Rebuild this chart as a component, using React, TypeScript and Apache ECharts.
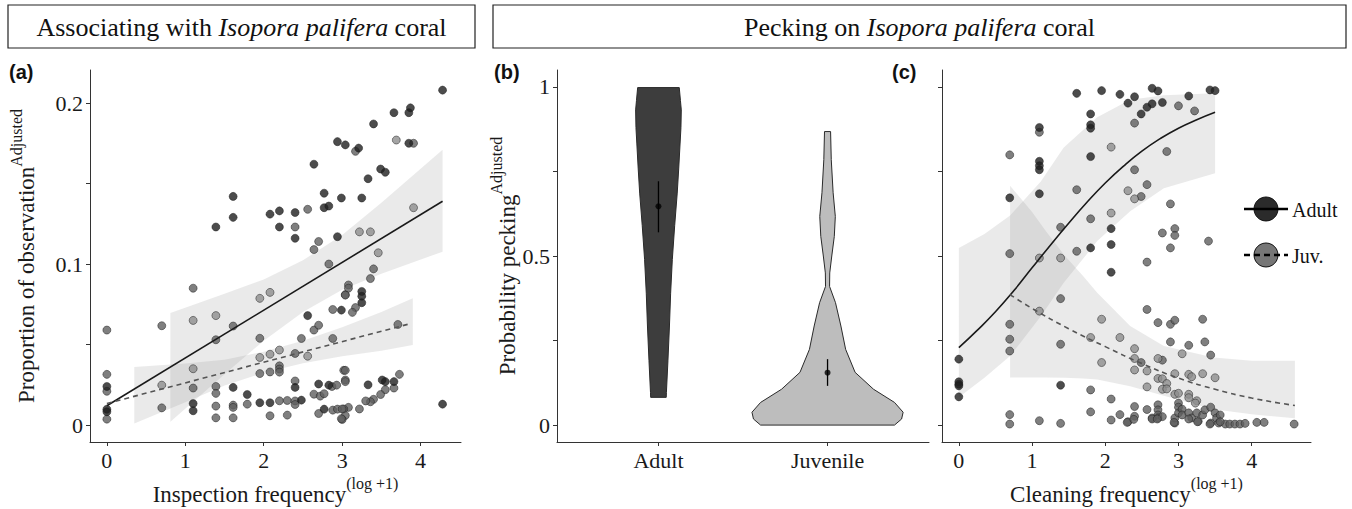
import React, { useEffect, useRef } from "react";
import * as echarts from "echarts";

const SERIF = "'Liberation Serif', 'Times New Roman', serif";
const SANS = "'Liberation Sans', Arial, sans-serif";

// ---------- Panel (a): association vs inspection frequency ----------
const aDark: number[][] = [
  [1.39, 0.123], [1.61, 0.142], [1.61, 0.129], [2.08, 0.131], [2.2, 0.133], [2.2, 0.123], [2.4, 0.132], [2.4, 0.116],
  [2.77, 0.144], [2.77, 0.135], [2.83, 0.136], [2.64, 0.162], [2.94, 0.176], [3.04, 0.174], [2.99, 0.141], [2.94, 0.117],
  [4.28, 0.208], [3.87, 0.197], [3.85, 0.194], [3.66, 0.194], [3.4, 0.187], [3.85, 0.175], [3.21, 0.172], [3.49, 0.159],
  [3.55, 0.157], [3.33, 0.153], [3.25, 0.141], [3.25, 0.083], [3.25, 0.08], [3.25, 0.076], [3.33, 0.025], [3.51, 0.028],
  [3.55, 0.027], [3.66, 0.027], [4.28, 0.013], [0, 0.024], [0, 0.0098], [0, 0.0083], [1.1, 0.0134], [1.1, 0.0089],
  [1.61, 0.0234], [1.79, 0.019], [1.95, 0.0139], [2.08, 0.0139], [2.48, 0.0155], [2.4, 0.0234], [2.56, 0.068],
  [2.7, 0.0255], [2.83, 0.0248], [2.77, 0.0099], [2.99, 0.0714]
];
const aMid: number[][] = [
  [2.4, 0.123], [2.56, 0.134], [2.7, 0.114], [2.64, 0.109], [3.17, 0.17], [3.91, 0.175], [3.04, 0.081], [3.08, 0.087],
  [3.08, 0.085], [3.17, 0.073], [3.13, 0.07], [3.71, 0.0625], [3.02, 0.034], [3.04, 0.028], [3.73, 0.0315], [3.66, 0.023],
  [3.55, 0.022], [3.49, 0.019], [3.4, 0.016], [3.36, 0.0145], [3.3, 0.015], [3.22, 0.01], [3.08, 0.011], [3.02, 0.01],
  [3.04, 0.006], [3.0, 0.0035], [0, 0.059], [0, 0.0315], [0, 0.021], [0, 0.0037], [0.7, 0.0617], [0.7, 0.0107],
  [1.1, 0.085], [1.1, 0.023], [1.39, 0.053], [1.39, 0.024], [1.39, 0.0197], [1.39, 0.0118], [1.39, 0.0045],
  [1.61, 0.0615], [1.61, 0.0124], [1.61, 0.011], [1.61, 0.0045], [1.79, 0.013], [1.95, 0.0539], [1.95, 0.032],
  [2.08, 0.033], [2.2, 0.0368], [2.2, 0.0348], [2.2, 0.0329], [2.2, 0.0151], [2.08, 0.0058], [2.3, 0.0062],
  [2.3, 0.0153], [2.4, 0.015], [2.4, 0.0128], [2.4, 0.0274], [2.48, 0.0538], [2.4, 0.0445], [2.64, 0.059],
  [2.7, 0.062], [2.64, 0.0192], [2.72, 0.018], [2.77, 0.0195], [2.87, 0.024], [2.93, 0.0248], [3.04, 0.027],
  [2.7, 0.0072], [2.88, 0.0093], [2.94, 0.0099], [3.0, 0.01], [2.99, 0.004], [2.88, 0.0718], [2.83, 0.1],
  [2.88, 0.0538], [3.04, 0.034], [3.04, 0.0807], [3.4, 0.097], [3.36, 0.091]
];
const aLight: number[][] = [
  [3.69, 0.177], [3.91, 0.135], [3.22, 0.12], [3.36, 0.12], [3.46, 0.107], [0.7, 0.0248], [1.1, 0.065], [1.1, 0.035],
  [1.39, 0.068], [1.95, 0.0787], [2.08, 0.0824], [1.95, 0.042], [2.08, 0.044], [2.2, 0.0466], [2.56, 0.0428]
];
const aAdultFit: number[][] = [[0, 0.012], [4.28, 0.139]];
const aJuvFit: number[][] = [[0, 0.0134], [3.87, 0.063]];
const aAdultBandX = [0.81, 1.5, 2.0, 2.5, 3.0, 3.5, 4.28];
const aAdultBandLo = [0.002, 0.0316, 0.0524, 0.0703, 0.0841, 0.094, 0.1077];
const aAdultBandHi = [0.0696, 0.0816, 0.0904, 0.1023, 0.1181, 0.138, 0.171];
const aJuvBandX = [0.35, 1.0, 1.5, 2.0, 2.5, 3.0, 3.5, 3.9];
const aJuvBandLo = [0.001, 0.0142, 0.0246, 0.0325, 0.0384, 0.0428, 0.0462, 0.0497];
const aJuvBandHi = [0.036, 0.0382, 0.0406, 0.0455, 0.0524, 0.0608, 0.0702, 0.0787];
const aXTicks = [0, 1, 2, 3, 4];
const aYTicks = [0, 0.05, 0.1, 0.15, 0.2];
const aYLabels = [0, 0.1, 0.2];

// ---------- Panel (b): violins ----------
const bCategories = ["Adult", "Juvenile"];
const bAdultY = [0.998, 0.96, 0.932, 0.88, 0.834, 0.76, 0.686, 0.59, 0.49, 0.39, 0.293, 0.19, 0.096, 0.082];
const bAdultW = [0.123, 0.13, 0.135, 0.133, 0.128, 0.12, 0.111, 0.096, 0.082, 0.072, 0.065, 0.056, 0.047, 0.046];
const bJuvY = [0.868, 0.785, 0.687, 0.617, 0.558, 0.5, 0.45, 0.41, 0.362, 0.293, 0.224, 0.156, 0.106, 0.067, 0.038, 0.018, 0.0];
const bJuvW = [0.018, 0.022, 0.033, 0.046, 0.04, 0.025, 0.013, 0.012, 0.047, 0.079, 0.107, 0.163, 0.272, 0.396, 0.447, 0.438, 0.396];
const bMeans = [0.647, 0.155];
const bLow = [0.57, 0.116];
const bHigh = [0.721, 0.195];
const bYTicks = [0, 0.25, 0.5, 0.75, 1];
const bYLabels = [0, 0.5, 1];

// ---------- Panel (c): pecking vs cleaning frequency ----------
const cDark: number[][] = [
  [1.61, 0.981], [1.95, 0.989], [2.2, 0.978], [2.4, 0.971], [2.31, 0.952], [2.64, 0.996], [2.72, 0.988], [2.57, 0.94],
  [2.64, 0.95], [2.78, 0.954], [3.14, 0.973], [3.43, 0.991], [3.5, 0.989], [1.8, 0.92], [1.8, 0.888], [1.8, 0.878],
  [1.1, 0.88], [1.1, 0.78], [1.1, 0.767], [1.1, 0.755], [1.8, 0.794], [0.695, 0.672], [1.1, 0.684], [2.08, 0.581],
  [2.08, 0.534], [1.8, 0.524], [2.08, 0.452], [1.39, 0.118], [0, 0.195], [0, 0.128], [0, 0.121], [0, 0.116],
  [0, 0.0835], [2.49, 0.92]
];
const cMid: number[][] = [
  [2.4, 0.893], [3.0, 0.944], [3.22, 0.929], [1.1, 0.866], [0.695, 0.799], [2.84, 0.809], [2.4, 0.755], [1.61, 0.696],
  [2.49, 0.676], [2.57, 0.711], [2.89, 0.654], [1.39, 0.585], [1.8, 0.61], [1.61, 0.514], [2.78, 0.568], [2.95, 0.581],
  [2.95, 0.561], [2.89, 0.524], [3.41, 0.544], [0.695, 0.507], [2.57, 0.482], [0.695, 0.298], [0.695, 0.254],
  [0.695, 0.219], [1.39, 0.374], [1.39, 0.239], [2.57, 0.342], [2.49, 0.185], [2.72, 0.303], [2.89, 0.298],
  [2.95, 0.31], [3.33, 0.313], [2.89, 0.246], [3.14, 0.236], [3.36, 0.246], [3.44, 0.207], [2.78, 0.192], [1.8, 0.104],
  [2.08, 0.077], [0.695, 0.031], [0.695, 0.003], [1.1, 0.013], [1.39, 0.005], [1.8, 0.039], [2.08, 0.015], [2.2, 0.031],
  [2.31, 0.01], [2.4, 0.055], [2.4, 0.026], [2.57, 0.046], [2.64, 0.021], [2.72, 0.06], [2.72, 0.045], [2.72, 0.03],
  [2.72, 0.021], [2.78, 0.025], [2.95, 0.006], [2.95, 0.021], [3.0, 0.065], [3.0, 0.053], [3.0, 0.036], [3.05, 0.047],
  [3.05, 0.03], [3.14, 0.036], [3.18, 0.021], [3.25, 0.036], [3.27, 0.011], [3.33, 0.03], [3.36, 0.045], [3.44, 0.053],
  [3.44, 0.006], [3.5, 0.036], [3.52, 0.021], [3.57, 0.03], [3.55, 0.006], [3.64, 0.003], [3.7, 0.003], [3.77, 0.003],
  [3.84, 0.003], [3.91, 0.005], [2.3, 0.008], [2.39, 0.017], [2.64, 0.018], [2.71, 0.018], [2.94, 0.008], [3.14, 0.018],
  [3.26, 0.01], [3.43, 0.003], [3.57, 0.01], [4.07, 0.008], [4.17, 0.008], [4.58, 0.003]
];
const cLight: number[][] = [
  [2.08, 0.822], [2.31, 0.693], [2.4, 0.669], [2.08, 0.627], [1.1, 0.494], [1.39, 0.494], [1.1, 0.337], [1.95, 0.313],
  [1.8, 0.259], [2.2, 0.259], [1.95, 0.185], [2.4, 0.226], [2.4, 0.197], [2.4, 0.163], [2.57, 0.16], [2.72, 0.197],
  [2.72, 0.138], [2.78, 0.137], [2.84, 0.123], [2.78, 0.106], [2.84, 0.107], [2.57, 0.113], [2.95, 0.152], [3.14, 0.15],
  [3.18, 0.143], [3.33, 0.152], [3.5, 0.14], [2.95, 0.091], [3.0, 0.094], [3.14, 0.091], [3.14, 0.081], [3.25, 0.072],
  [3.23, 0.065], [3.05, 0.211]
];
const cAdultFit: number[][] = [
  [0, 0.229], [0.25, 0.28], [0.5, 0.335], [0.75, 0.397], [1.0, 0.465], [1.25, 0.532], [1.5, 0.597], [1.75, 0.659],
  [2.0, 0.716], [2.25, 0.766], [2.5, 0.81], [2.75, 0.847], [3.0, 0.878], [3.25, 0.903], [3.5, 0.925]
];
const cJuvFit: number[][] = [
  [0.7, 0.386], [1.0, 0.345], [1.5, 0.285], [2.0, 0.232], [2.5, 0.182], [3.0, 0.139], [3.5, 0.106], [4.0, 0.08],
  [4.59, 0.058]
];
const cAdultBandX = [0, 0.35, 0.7, 1.12, 1.43, 1.89, 2.34, 2.8, 3.5];
const cAdultBandLo = [0.082, 0.14, 0.204, 0.322, 0.42, 0.544, 0.632, 0.7, 0.745];
const cAdultBandHi = [0.524, 0.565, 0.62, 0.72, 0.82, 0.91, 0.962, 0.975, 0.981];
const cJuvBandX = [0.7, 1.0, 1.2, 1.45, 1.7, 1.89, 2.34, 2.8, 3.48, 4.0, 4.59];
const cJuvBandLo = [0.141, 0.141, 0.141, 0.14, 0.138, 0.135, 0.115, 0.087, 0.047, 0.032, 0.02];
const cJuvBandHi = [0.708, 0.63, 0.57, 0.5, 0.44, 0.391, 0.293, 0.234, 0.2, 0.19, 0.19];
const cXTicks = [0, 1, 2, 3, 4];
const cYTicks = [0, 0.25, 0.5, 0.75, 1];

const legendLabels = ["Adult", "Juv."];

// ---------- styling ----------
const DARK = "#1f1f1f";
const MID = "#5f5f5f";
const LIGHT = "#8d8d8d";
const BAND = "rgba(150,150,150,0.2)";
const AXIS = "#333";

function bandItem(xs: number[], lo: number[], hi: number[]) {
  return (_p: any, api: any) => {
    const pts: number[][] = [];
    for (let i = 0; i < xs.length; i++) pts.push(api.coord([xs[i], hi[i]]));
    for (let i = xs.length - 1; i >= 0; i--) pts.push(api.coord([xs[i], lo[i]]));
    return { type: "polygon", shape: { points: pts }, style: { fill: BAND } };
  };
}

function scatter(data: number[][], color: string, idx: number) {
  return {
    type: "scatter",
    xAxisIndex: idx,
    yAxisIndex: idx,
    data,
    symbolSize: 8,
    itemStyle: { color, borderColor: "#1a1a1a", borderWidth: 0.6 },
    silent: true,
  };
}

const tickLabel = { fontFamily: SERIF, fontSize: 22, color: "#1a1a1a" };
const nameStyle = {
  fontFamily: SERIF,
  fontSize: 23,
  color: "#1a1a1a",
  rich: {
    m: { fontFamily: SERIF, fontSize: 23, color: "#1a1a1a", lineHeight: 30, verticalAlign: "bottom" },
    s: { fontFamily: SERIF, fontSize: 16, color: "#1a1a1a", lineHeight: 16, verticalAlign: "top" },
  },
};

function valueAxis(grid: number, min: number, max: number, ticks: number[], labels: number[] | null, extra: any = {}) {
  return {
    type: "value",
    gridIndex: grid,
    min,
    max,
    splitLine: { show: false },
    axisLine: { show: true, onZero: false, lineStyle: { color: AXIS, width: 1 } },
    axisTick: { show: true, length: 4, lineStyle: { color: AXIS }, customValues: ticks },
    axisLabel: labels
      ? { show: true, margin: 7, ...tickLabel, customValues: labels }
      : { show: false },
    ...extra,
  };
}

export default function App() {
  const ref = useRef<HTMLDivElement>(null);
  useEffect(() => {
    if (!ref.current) return;
    const chart = echarts.init(ref.current, undefined, { renderer: "svg" });

    const violinProfiles = [
      { ys: bAdultY, ws: bAdultW, fill: "#3d3d3d" },
      { ys: bJuvY, ws: bJuvW, fill: "#bdbdbd" },
    ];

    const option: any = {
      animation: false,
      backgroundColor: "#ffffff",
      grid: [
        { left: 90, top: 70, width: 371, height: 372, outerBoundsMode: "none", containLabel: false },
        { left: 557, top: 70, width: 372, height: 372, outerBoundsMode: "none", containLabel: false },
        { left: 942, top: 70, width: 369, height: 372, outerBoundsMode: "none", containLabel: false },
      ],
      xAxis: [
        valueAxis(0, -0.215, 4.515, aXTicks, aXTicks, {
          name: "{m|Inspection frequency}{s|(log +1)}",
          nameLocation: "middle",
          nameGap: 32,
          nameTextStyle: nameStyle,
        }),
        valueAxis(1, 0.4, 2.6, [1, 2], [1, 2], {
          axisLabel: {
            show: true,
            margin: 7,
            ...tickLabel,
            customValues: [1, 2],
            formatter: (v: number) => bCategories[Math.round(v) - 1],
          },
        }),
        valueAxis(2, -0.23, 4.81, cXTicks, cXTicks, {
          name: "{m|Cleaning frequency}{s|(log +1)}",
          nameLocation: "middle",
          nameGap: 32,
          nameTextStyle: nameStyle,
        }),
      ],
      yAxis: [
        valueAxis(0, -0.0105, 0.2205, aYTicks, aYLabels, {
          name: "{m|Proportion of observation}{s|Adjusted}",
          nameLocation: "middle",
          nameGap: 52,
          nameRotate: 90,
          nameTextStyle: nameStyle,
        }),
        valueAxis(1, -0.05, 1.05, bYTicks, bYLabels, {
          name: "{m|Probability pecking}{s|Adjusted}",
          nameLocation: "middle",
          nameGap: 36,
          nameRotate: 90,
          nameTextStyle: nameStyle,
        }),
        valueAxis(2, -0.05, 1.05, cYTicks, null),
      ],
      series: [
        // panel a
        { type: "custom", xAxisIndex: 0, yAxisIndex: 0, data: [[aAdultBandX[0], aAdultBandLo[0]]], renderItem: bandItem(aAdultBandX, aAdultBandLo, aAdultBandHi), silent: true },
        { type: "custom", xAxisIndex: 0, yAxisIndex: 0, data: [[aJuvBandX[0], aJuvBandLo[0]]], renderItem: bandItem(aJuvBandX, aJuvBandLo, aJuvBandHi), silent: true },
        scatter(aMid, MID, 0),
        scatter(aLight, LIGHT, 0),
        scatter(aDark, DARK, 0),
        { type: "line", xAxisIndex: 0, yAxisIndex: 0, data: aAdultFit, showSymbol: false, lineStyle: { color: "#1a1a1a", width: 1.6 }, silent: true },
        { type: "line", xAxisIndex: 0, yAxisIndex: 0, data: aJuvFit, showSymbol: false, lineStyle: { color: "#555", width: 1.6, type: [5, 4] }, silent: true },
        // panel b violins
        {
          type: "custom",
          xAxisIndex: 1,
          yAxisIndex: 1,
          data: [[1, 0.5], [2, 0.5]],
          silent: true,
          renderItem: (p: any, api: any) => {
            const prof = violinProfiles[p.dataIndex];
            const cx = p.dataIndex + 1;
            const pts: number[][] = [];
            for (let i = 0; i < prof.ys.length; i++) pts.push(api.coord([cx + prof.ws[i], prof.ys[i]]));
            for (let i = prof.ys.length - 1; i >= 0; i--) pts.push(api.coord([cx - prof.ws[i], prof.ys[i]]));
            return { type: "polygon", shape: { points: pts }, style: { fill: prof.fill, stroke: "#2a2a2a", lineWidth: 1 } };
          },
        },
        {
          type: "custom",
          xAxisIndex: 1,
          yAxisIndex: 1,
          data: [[1, bLow[0], bHigh[0]], [2, bLow[1], bHigh[1]]],
          silent: true,
          renderItem: (p: any, api: any) => {
            const a = api.coord([api.value(0), api.value(1)]);
            const b = api.coord([api.value(0), api.value(2)]);
            return { type: "line", shape: { x1: a[0], y1: a[1], x2: b[0], y2: b[1] }, style: { stroke: "#000", lineWidth: 1.3 } };
          },
        },
        {
          type: "scatter",
          xAxisIndex: 1,
          yAxisIndex: 1,
          data: [[1, bMeans[0]], [2, bMeans[1]]],
          symbolSize: 6,
          itemStyle: { color: "#000" },
          silent: true,
        },
        // panel c
        { type: "custom", xAxisIndex: 2, yAxisIndex: 2, data: [[cAdultBandX[0], cAdultBandLo[0]]], renderItem: bandItem(cAdultBandX, cAdultBandLo, cAdultBandHi), silent: true },
        { type: "custom", xAxisIndex: 2, yAxisIndex: 2, data: [[cJuvBandX[0], cJuvBandLo[0]]], renderItem: bandItem(cJuvBandX, cJuvBandLo, cJuvBandHi), silent: true },
        scatter(cMid, MID, 2),
        scatter(cLight, LIGHT, 2),
        scatter(cDark, DARK, 2),
        { type: "line", xAxisIndex: 2, yAxisIndex: 2, data: cAdultFit, smooth: true, showSymbol: false, lineStyle: { color: "#1a1a1a", width: 1.6 }, silent: true },
        { type: "line", xAxisIndex: 2, yAxisIndex: 2, data: cJuvFit, smooth: true, showSymbol: false, lineStyle: { color: "#555", width: 1.6, type: [5, 4] }, silent: true },
      ],
      graphic: [
        { type: "rect", shape: { x: 8, y: 5, width: 467, height: 43 }, style: { fill: "none", stroke: "#222", lineWidth: 1.2 } },
        {
          type: "text",
          x: 241.5,
          y: 27,
          style: {
            text: "Associating with {i|Isopora palifera} coral",
            fontFamily: SERIF,
            fontSize: 26,
            fill: "#111",
            align: "center",
            verticalAlign: "middle",
            rich: { i: { fontFamily: SERIF, fontSize: 26, fontStyle: "italic", fill: "#111" } },
          },
        },
        { type: "rect", shape: { x: 493, y: 5, width: 853, height: 43 }, style: { fill: "none", stroke: "#222", lineWidth: 1.2 } },
        {
          type: "text",
          x: 919.5,
          y: 27,
          style: {
            text: "Pecking on {i|Isopora palifera} coral",
            fontFamily: SERIF,
            fontSize: 26,
            fill: "#111",
            align: "center",
            verticalAlign: "middle",
            rich: { i: { fontFamily: SERIF, fontSize: 26, fontStyle: "italic", fill: "#111" } },
          },
        },
        { type: "text", x: 9, y: 72, style: { text: "(a)", fontFamily: SANS, fontWeight: "bold", fontSize: 20, fill: "#111", verticalAlign: "middle" } },
        { type: "text", x: 494, y: 72, style: { text: "(b)", fontFamily: SANS, fontWeight: "bold", fontSize: 20, fill: "#111", verticalAlign: "middle" } },
        { type: "text", x: 892, y: 72, style: { text: "(c)", fontFamily: SANS, fontWeight: "bold", fontSize: 20, fill: "#111", verticalAlign: "middle" } },
        // legend
        { type: "circle", shape: { cx: 1266, cy: 209, r: 12 }, style: { fill: "#2b2b2b", stroke: "#111", lineWidth: 1 } },
        { type: "line", shape: { x1: 1244, y1: 209, x2: 1288, y2: 209 }, style: { stroke: "#000", lineWidth: 2.5 } },
        { type: "text", x: 1292, y: 210, style: { text: legendLabels[0], fontFamily: SERIF, fontSize: 20, fill: "#111", verticalAlign: "middle" } },
        { type: "circle", shape: { cx: 1266, cy: 255, r: 12 }, style: { fill: "#767676", stroke: "#111", lineWidth: 1 } },
        { type: "line", shape: { x1: 1244, y1: 255, x2: 1288, y2: 255 }, style: { stroke: "#000", lineWidth: 2.5, lineDash: [6, 4] } },
        { type: "text", x: 1292, y: 256, style: { text: legendLabels[1], fontFamily: SERIF, fontSize: 20, fill: "#111", verticalAlign: "middle" } },
      ],
    };
    chart.setOption(option);
    return () => chart.dispose();
  }, []);
  return <div ref={ref} style={{ position: "absolute", left: 0, top: 0, width: 1352, height: 509, background: "#fff" }} />;
}
